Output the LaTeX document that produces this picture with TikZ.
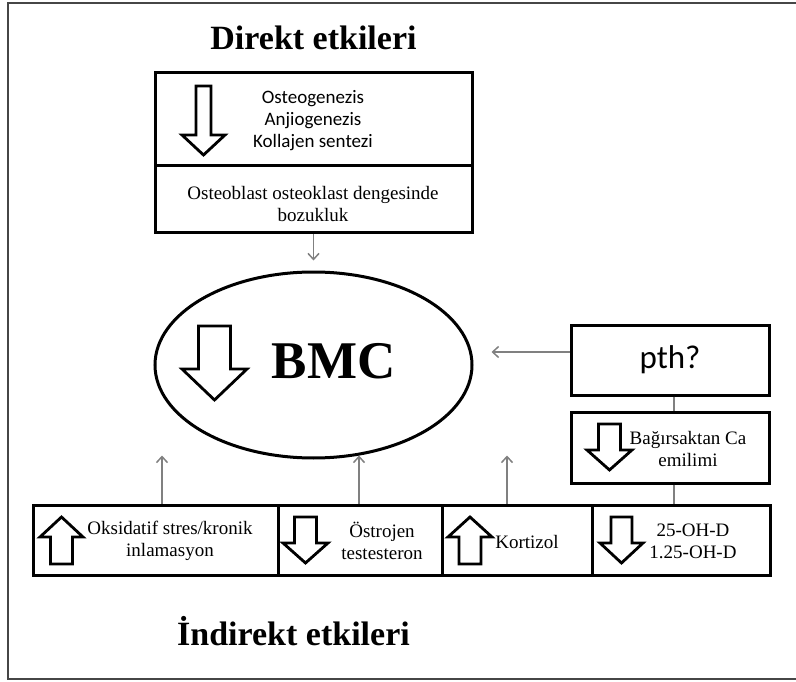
\documentclass[tikz,border=0pt]{standalone}
\usepackage{fontspec}
\setmainfont{Liberation Serif}
\newfontfamily\calibri{Carlito}
\usetikzlibrary{arrows.meta,shapes.geometric}
\definecolor{LinkClr}{RGB}{128,128,128}
\definecolor{FrameClr}{RGB}{70,70,70}

% hollow block arrow: x, tail y, tip y, shaft half width, head half width, head base y
\newcommand{\HollowArrow}[6]{%
  \draw[line width=2.8pt,line join=miter] ({#1-#4},#2) -- ({#1+#4},#2) -- ({#1+#4},#6)
    -- ({#1+#5},#6) -- (#1,#3) -- ({#1-#5},#6) -- ({#1-#4},#6) -- cycle;}

\tikzset{
  box/.style={draw,line width=3pt,inner sep=0pt},
  txt/.style={font=\fontsize{19}{22}\selectfont,align=center,inner sep=0pt},
  sans/.style={font=\calibri\fontsize{19}{22}\selectfont,align=center,inner sep=0pt},
  title/.style={font=\bfseries\fontsize{34}{40}\selectfont,anchor=base,inner sep=0pt},
  link/.style={draw=LinkClr,line width=1.5pt,-{Straight Barb[length=6pt,width=11pt]}}
}

\begin{document}
\begin{tikzpicture}[x=1pt,y=-1pt]
\useasboundingbox (0,0) rectangle (796,682);
\draw[line width=2pt,FrameClr] (8,3) rectangle (803,679);

\node[title] (dtitle) at (313.5,50) {Direkt etkileri};
\node[title] (ititle) at (293.5,645) {İndirekt etkileri};

% direct effects
\node[box,minimum width=317pt,minimum height=93pt] (dtop) at (313.5,119.5) {};
\node[box,minimum width=317pt,minimum height=67pt] (dbot) at (313.5,199.5) {};
\HollowArrow{203.5}{86}{155}{7.5}{21.5}{135}
\node[sans] (dlist) at (313,121) {Osteogenezis\\Anjiogenezis\\Kollajen sentezi};
\node[txt] (dbal) at (313,204) {Osteoblast osteoklast dengesinde\\bozukluk};

% BMC
\node[draw,ellipse,line width=3pt,minimum width=317pt,minimum height=186pt,inner sep=0pt] (bmc) at (313.5,365) {};
\HollowArrow{214.5}{326}{400}{16}{32.5}{369}
\node[font=\bfseries\fontsize{53}{60}\selectfont,anchor=base,inner sep=0pt] (bmctxt) at (333.5,378) {BMC};

% pth and Ca
\node[box,minimum width=198pt,minimum height=70pt,font=\calibri\fontsize{33}{40}\selectfont] (pth) at (670,360) {pth?};
\node[box,minimum width=198pt,minimum height=71pt] (ca) at (670,447.5) {};
\HollowArrow{609.5}{424}{470}{11}{22.5}{450}
\node[txt] (catxt) at (688,448.5) {Bağırsaktan Ca\\emilimi};

% indirect effects
\node[box,minimum width=245pt,minimum height=70pt] (c1) at (155.5,540) {};
\node[box,minimum width=164pt,minimum height=70pt] (c2) at (360,540) {};
\node[box,minimum width=150pt,minimum height=70pt] (c3) at (517,540) {};
\node[box,minimum width=178pt,minimum height=70pt] (c4) at (681,540) {};
\HollowArrow{61.5}{564}{517}{11}{21.5}{537}
\HollowArrow{305.5}{517}{563}{11}{22.5}{543}
\HollowArrow{470}{564}{517}{11}{22}{537}
\HollowArrow{621.5}{517}{563}{10.5}{21.5}{543}
\node[txt] (c1txt) at (170,541) {Oksidatif stres/kronik\\inlamasyon};
\node[txt] (c2txt) at (382,541) {Östrojen\\testesteron};
\node[txt] (c3txt) at (527,542) {Kortizol};
\node[txt] (c4txt) at (693,541) {25-OH-D\\1.25-OH-D};

% links
\draw[link,shorten >=10pt] (dbot.south) -- (bmc.north);
\coordinate (pthout) at ([yshift=8pt]pth.west);
\draw[link,shorten >=18pt] (pthout) -- (pthout -| bmc.east);
\draw[draw=LinkClr,line width=1.5pt] ([xshift=4pt]pth.south) -- ([xshift=4pt]ca.north);
\draw[draw=LinkClr,line width=1.5pt] ([xshift=4pt]ca.south) -- ([xshift=-7pt]c4.north);
\draw[link] ([xshift=6.5pt]c1.north) -- ++(0,-48);
\draw[link] ([xshift=-1pt]c2.north) -- ++(0,-48);
\draw[link] ([xshift=-10pt]c3.north) -- ++(0,-48);
\end{tikzpicture}
\end{document}
